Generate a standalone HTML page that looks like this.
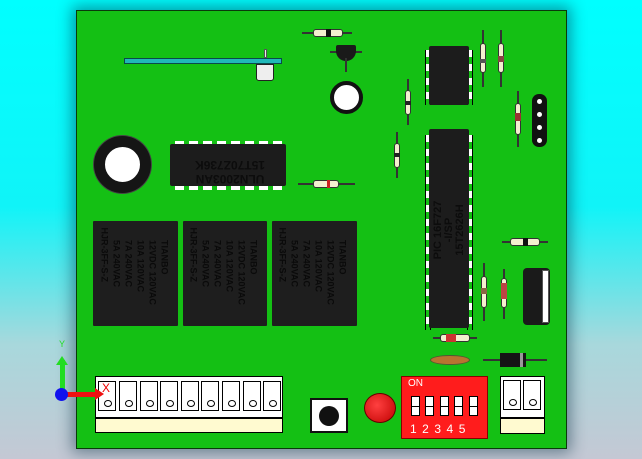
<!DOCTYPE html>
<html><head><style>
body{margin:0;width:642px;height:459px;overflow:hidden;background:linear-gradient(#00ffff 0%,#10f4f8 45%,#a8d8dc 75%,#c4c8d4 100%);position:relative;font-family:"Liberation Sans",sans-serif}
div{position:absolute;box-sizing:border-box}
.board{left:76px;top:10px;width:491px;height:439px;background:#14c014;border:1.5px solid #0a3a0a;box-shadow:0 0 14px 4px rgba(0,40,60,.45)}
.chip{background:#1c1c1c;border-radius:2px}
.relay{background:#1e1e1e;border-radius:1px}
.rt{width:100px;height:75px;transform:rotate(90deg);color:#0a0a0a;font-size:9px;font-weight:bold;line-height:12px;white-space:pre;overflow:hidden;padding:3px 4px}
.rv{width:6px;background:#f4f0d0;border:1px solid #333;border-radius:3px}
.rh{height:6px;background:#f4f0d0;border:1px solid #333;border-radius:3px}
.lead{background:#ddd;border:0.5px solid #333}
.cell{background:#fff;border:1px solid #000;width:18px;height:30px}
.cell:after{content:"";position:absolute;left:5px;top:18px;width:6px;height:5px;border:1px solid #000;border-radius:50%}
.sw{background:#fff;border:1px solid #000;width:9px;height:20px}
.sw:after{content:"";position:absolute;left:0;top:9px;width:7px;height:1px;background:#000}
.pv{background:repeating-linear-gradient(#fff 0 7px,transparent 7px 14px);border-left:1px solid #000;border-right:1px solid #000;width:6px}
.ph{background:repeating-linear-gradient(90deg,#fff 0 9px,transparent 9px 14px);height:5px}
</style></head><body>
<div class="board"></div>

<div style="left:124px;top:58px;width:158px;height:6px;background:#20b8b8;border:1px solid #0a4a4a"></div>
<div style="left:264px;top:49px;width:3px;height:9px;background:#eee;border:0.5px solid #555"></div>
<div style="left:256px;top:64px;width:18px;height:17px;background:#eee;border:1px solid #222;border-radius:0 0 3px 3px"></div>

<div class="lead" style="left:302px;top:32px;width:50px;height:2px"></div>
<div class="rh" style="left:313px;top:29px;width:30px;height:8px"></div>
<div style="left:326px;top:29px;width:5px;height:8px;background:#111"></div>
<div class="lead" style="left:330px;top:51px;width:32px;height:2px"></div>
<div style="left:336px;top:45px;width:20px;height:16px;background:#1a1a1a;border-radius:2px 2px 10px 10px"></div>
<div class="lead" style="left:345px;top:58px;width:2px;height:14px"></div>
<div style="left:330px;top:81px;width:33px;height:33px;border-radius:50%;background:#fff;border:4px solid #111"></div>
<div style="left:94px;top:136px;width:57px;height:57px;border-radius:50%;background:#fff;border:11px solid #151515;box-shadow:0 0 0 1px #444"></div>

<div class="ph" style="left:175px;top:141px;width:110px"></div>
<div class="ph" style="left:175px;top:185px;width:110px"></div>
<div class="chip" style="left:170px;top:144px;width:116px;height:42px"></div>
<div style="left:180px;top:146px;width:100px;height:40px;color:#0c0c0c;font-size:12px;font-weight:bold;transform:rotate(180deg);line-height:14px;text-align:center">ULN2003AN<br>15T70Z736K</div>

<div class="relay" style="left:93px;top:221px;width:85px;height:105px"></div>
<div class="relay" style="left:183px;top:221px;width:84px;height:105px"></div>
<div class="relay" style="left:272px;top:221px;width:85px;height:105px"></div>
<div class="rt" style="left:86px;top:236px">     TIANBO
     12VDC 120VAC
     10A 120VAC
     7A 240VAC
     5A 240VAC
HJR-3FF-S-Z</div>
<div class="rt" style="left:175px;top:236px">     TIANBO
     12VDC 120VAC
     10A 120VAC
     7A 240VAC
     5A 240VAC
HJR-3FF-S-Z</div>
<div class="rt" style="left:264px;top:236px">     TIANBO
     12VDC 120VAC
     10A 120VAC
     7A 240VAC
     5A 240VAC
HJR-3FF-S-Z</div>

<div class="lead" style="left:298px;top:183px;width:57px;height:2px"></div>
<div class="rh" style="left:313px;top:180px;width:26px;height:8px"></div>
<div style="left:327px;top:180px;width:3px;height:8px;background:#c22"></div>

<div class="pv" style="left:425px;top:50px;height:55px"></div>
<div class="pv" style="left:467px;top:50px;height:55px"></div>
<div class="chip" style="left:429px;top:46px;width:40px;height:59px"></div>
<div class="pv" style="left:425px;top:135px;height:195px"></div>
<div class="pv" style="left:467px;top:135px;height:195px"></div>
<div class="chip" style="left:429px;top:129px;width:40px;height:199px"></div>
<div style="left:360px;top:213px;width:180px;height:34px;transform:rotate(-90deg);color:#0c0c0c;font-size:11px;font-weight:bold;line-height:11px;text-align:center">PIC 16F727<br>-I/SP<br>15T2626H</div>

<div style="left:532px;top:94px;width:15px;height:53px;background:#111;border-radius:7px"></div>
<div style="left:537px;top:99px;width:5px;height:5px;background:#fff;border-radius:50%"></div>
<div style="left:537px;top:112px;width:5px;height:5px;background:#fff;border-radius:50%"></div>
<div style="left:537px;top:125px;width:5px;height:5px;background:#fff;border-radius:50%"></div>
<div style="left:537px;top:138px;width:5px;height:5px;background:#fff;border-radius:50%"></div>

<div class="lead" style="left:482px;top:30px;width:2px;height:57px"></div><div class="rv" style="left:480px;top:43px;height:30px"></div><div style="left:480px;top:59px;width:6px;height:4px;background:#555"></div>
<div class="lead" style="left:500px;top:30px;width:2px;height:57px"></div><div class="rv" style="left:498px;top:43px;height:30px"></div><div style="left:498px;top:56px;width:6px;height:6px;background:#844"></div>
<div class="lead" style="left:407px;top:79px;width:2px;height:46px"></div><div class="rv" style="left:405px;top:90px;height:25px"></div><div style="left:405px;top:101px;width:6px;height:4px;background:#222"></div>
<div class="lead" style="left:396px;top:132px;width:2px;height:46px"></div><div class="rv" style="left:394px;top:143px;height:25px"></div><div style="left:394px;top:153px;width:6px;height:4px;background:#222"></div>
<div class="lead" style="left:517px;top:91px;width:2px;height:56px"></div><div class="rv" style="left:515px;top:103px;height:32px"></div><div style="left:515px;top:113px;width:6px;height:8px;background:#933"></div>
<div class="lead" style="left:483px;top:263px;width:2px;height:58px"></div><div class="rv" style="left:481px;top:276px;height:32px"></div><div style="left:481px;top:288px;width:6px;height:6px;background:#864"></div>
<div class="lead" style="left:503px;top:269px;width:2px;height:50px"></div><div class="rv" style="left:501px;top:278px;height:30px"></div><div style="left:501px;top:283px;width:6px;height:16px;background:#b44"></div>
<div class="lead" style="left:502px;top:241px;width:46px;height:2px"></div><div class="rh" style="left:510px;top:238px;width:30px;height:8px"></div><div style="left:523px;top:238px;width:5px;height:8px;background:#111"></div>
<div class="lead" style="left:433px;top:337px;width:44px;height:2px"></div><div class="rh" style="left:440px;top:334px;width:30px;height:8px"></div><div style="left:446px;top:334px;width:10px;height:8px;background:#c33"></div>

<div style="left:523px;top:268px;width:27px;height:57px;background:#1a1a1a;border-radius:4px"></div>
<div style="left:542px;top:270px;width:7px;height:53px;background:#fff;border:1px solid #555"></div>

<div style="left:430px;top:355px;width:40px;height:10px;background:#b87430;border-radius:50%;border:1px solid #553"></div>
<div class="lead" style="left:483px;top:359px;width:64px;height:2px"></div>
<div style="left:500px;top:353px;width:26px;height:14px;background:#151515"></div>
<div style="left:520px;top:353px;width:3px;height:14px;background:#999"></div>

<div style="left:95px;top:376px;width:188px;height:57px;background:#fff;border:1px solid #000"></div>
<div style="left:96px;top:417px;width:186px;height:15px;background:#fffad0;border-top:2px solid #000"></div>
<div class="cell" style="left:98px;top:381px"></div><div class="cell" style="left:119px;top:381px"></div><div class="cell" style="left:140px;top:381px"></div><div class="cell" style="left:160px;top:381px"></div><div class="cell" style="left:181px;top:381px"></div><div class="cell" style="left:201px;top:381px"></div><div class="cell" style="left:222px;top:381px"></div><div class="cell" style="left:243px;top:381px"></div><div class="cell" style="left:263px;top:381px"></div>
<div style="left:102px;top:381px;color:#e00;font-size:12px">X</div>

<div style="left:310px;top:398px;width:38px;height:35px;background:#fff;border:2px solid #111"></div>
<div style="left:319px;top:406px;width:20px;height:20px;background:#111;border-radius:50%"></div>
<div style="left:364px;top:393px;width:32px;height:30px;background:radial-gradient(circle at 40% 40%,#ff4040,#c00000);border-radius:50%;border:1px solid #600"></div>

<div style="left:401px;top:376px;width:87px;height:63px;background:#ff1c1c;border:1px solid #800"></div>
<div style="left:408px;top:378px;color:#fff;font-size:10px">ON</div>
<div class="sw" style="left:411px;top:396px"></div><div class="sw" style="left:425px;top:396px"></div><div class="sw" style="left:440px;top:396px"></div><div class="sw" style="left:454px;top:396px"></div><div class="sw" style="left:469px;top:396px"></div>
<div style="left:410px;top:422px;color:#fff;font-size:12px;letter-spacing:5.5px">12345</div>

<div style="left:500px;top:376px;width:45px;height:58px;background:#fff;border:1px solid #000"></div>
<div style="left:501px;top:417px;width:43px;height:16px;background:#fffad0;border-top:2px solid #000"></div>
<div class="cell" style="left:503px;top:380px"></div><div class="cell" style="left:523px;top:380px"></div>

<div style="left:60px;top:360px;width:5px;height:32px;background:#2d2"></div>
<div style="left:65px;top:392px;width:30px;height:5px;background:#e11"></div>
<div style="left:95px;top:388px;width:0;height:0;border-left:9px solid #e11;border-top:6px solid transparent;border-bottom:6px solid transparent"></div>
<div style="left:56px;top:356px;width:0;height:0;border-bottom:9px solid #2d2;border-left:6px solid transparent;border-right:6px solid transparent"></div>
<div style="left:55px;top:388px;width:13px;height:13px;background:#11e;border-radius:50%"></div>
<div style="left:59px;top:339px;font-size:9px;color:#2d2">Y</div>
</body></html>
